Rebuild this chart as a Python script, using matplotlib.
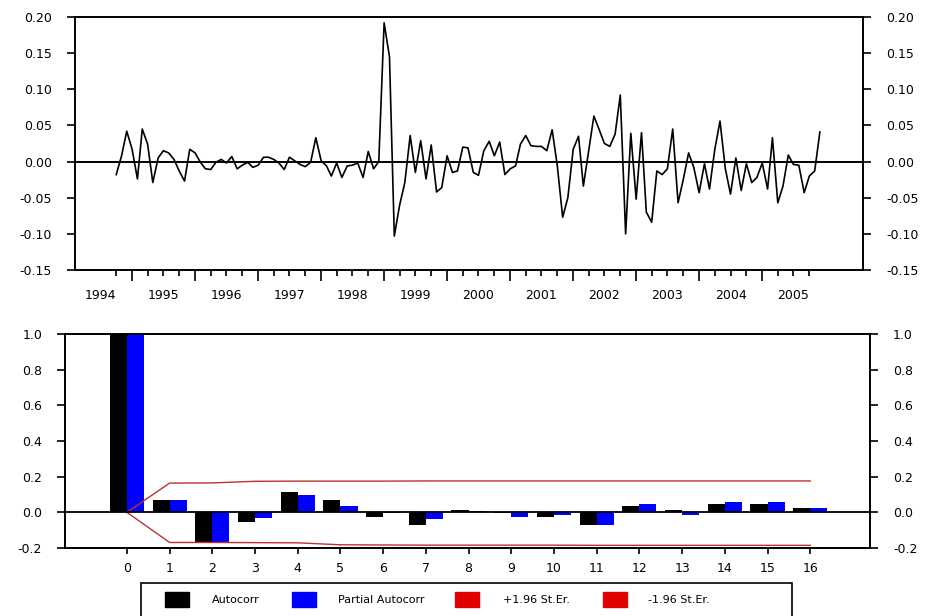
import numpy as np
import pandas as pd
import matplotlib
matplotlib.use("Agg")
import matplotlib.pyplot as plt
import matplotlib.dates as mdates
from matplotlib.patches import Rectangle

# monthly series, Oct 1994 - Dec 2005
series = [-0.018, 0.008, 0.042, 0.017, -0.024, 0.045, 0.024, -0.029, 0.005, 0.015,
          0.012, 0.003, -0.013, -0.027, 0.017, 0.012, -0.001, -0.010, -0.011, -0.001,
          0.003, -0.002, 0.007, -0.010, -0.005, -0.001, -0.008, -0.005, 0.006, 0.006,
          0.003, -0.002, -0.011, 0.006, 0.001, -0.004, -0.007, -0.001, 0.033, 0.001,
          -0.006, -0.020, -0.002, -0.022, -0.006, -0.005, -0.002, -0.022, 0.014, -0.010,
          0.000, 0.192, 0.145, -0.103, -0.060, -0.029, 0.036, -0.015, 0.029, -0.024,
          0.023, -0.042, -0.036, 0.008, -0.015, -0.013, 0.020, 0.019, -0.015, -0.019,
          0.015, 0.028, 0.008, 0.027, -0.018, -0.010, -0.006, 0.024, 0.036, 0.022,
          0.021, 0.021, 0.015, 0.044, -0.006, -0.077, -0.050, 0.017, 0.035, -0.034,
          0.015, 0.063, 0.044, 0.025, 0.021, 0.038, 0.092, -0.100, 0.039, -0.052,
          0.040, -0.070, -0.084, -0.013, -0.018, -0.010, 0.045, -0.057, -0.025, 0.012,
          -0.008, -0.043, -0.003, -0.038, 0.017, 0.056, -0.010, -0.045, 0.005, -0.040,
          -0.003, -0.029, -0.022, -0.002, -0.038, 0.033, -0.057, -0.034, 0.009, -0.004,
          -0.005, -0.043, -0.020, -0.013, 0.041]
dates = pd.date_range("1994-10-01", periods=len(series), freq="MS")
years = list(range(1994, 2006))

lags = np.arange(17)
acf = [1.0, 0.067, -0.170, -0.054, 0.114, 0.067, -0.028, -0.073, 0.015, -0.003,
       -0.026, -0.073, 0.034, 0.012, 0.045, 0.047, 0.025]
pacf = [1.0, 0.067, -0.170, -0.030, 0.100, 0.035, -0.003, -0.040, 0.006, -0.028,
        -0.015, -0.073, 0.047, -0.015, 0.057, 0.057, 0.025]
upper = [0.0, 0.164, 0.165, 0.174, 0.175, 0.175, 0.175, 0.176, 0.176, 0.176,
         0.176, 0.176, 0.176, 0.176, 0.176, 0.176, 0.176]
lower = [0.0, -0.169, -0.169, -0.170, -0.171, -0.182, -0.183, -0.184, -0.184, -0.184,
         -0.184, -0.185, -0.185, -0.185, -0.185, -0.185, -0.185]

W, H = 928, 616
fig = plt.figure(figsize=(W / 100, H / 100), dpi=100)
fs = 9

def frame(ax):
    for s in ax.spines.values():
        s.set_linewidth(1.4)
    ax.tick_params(axis='y', which='both', left=True, right=True, labelleft=True,
                   labelright=True, direction='out', length=6, width=1.2, pad=10.5,
                   labelsize=fs)

# ---- top panel: the series
ax1 = fig.add_axes([75 / W, 1 - 270 / H, 788 / W, 253 / H])
ax1.plot(dates, series, color='black', lw=1.2)
ax1.axhline(0, color='black', lw=1.4)
ax1.set_ylim(-0.15, 0.20)
ax1.set_yticks(np.arange(-0.15, 0.201, 0.05))
ax1.yaxis.set_major_formatter(plt.FormatStrFormatter('%.2f'))
ax1.set_xlim(pd.Timestamp("1994-02-04"), pd.Timestamp("2006-08-08"))
frame(ax1)
ax1.set_xticks([pd.Timestamp(f"{y}-01-01") for y in range(1995, 2006)])
ax1.set_xticks([d for d in pd.date_range("1994-10-01", "2005-10-01", freq="QS-JAN")
                if d.month != 1], minor=True)
ax1.tick_params(axis='x', which='major', length=8, width=1.2, labelbottom=False)
ax1.tick_params(axis='x', which='minor', length=4.5, width=1.2)
for y in years:
    ax1.text(pd.Timestamp(f"{y}-07-01"), -0.15 - 0.035, str(y), ha='center', va='center',
             fontsize=fs)

# ---- bottom panel: ACF / PACF
ax2 = fig.add_axes([65 / W, 1 - 548 / H, 805 / W, 214 / H])
ax2.bar(lags - 0.2, acf, width=0.4, color='black', zorder=2)
ax2.bar(lags + 0.2, pacf, width=0.4, color='#0000ff', zorder=2)
ax2.plot(lags, upper, color='#c03030', lw=1.0, zorder=3)
ax2.plot(lags, lower, color='#c03030', lw=1.0, zorder=3)
ax2.axhline(0, color='black', lw=1.3, zorder=4)
ax2.set_ylim(-0.2, 1.0)
ax2.set_yticks(np.arange(-0.2, 1.01, 0.2))
ax2.yaxis.set_major_formatter(plt.FormatStrFormatter('%.1f'))
ax2.set_xlim(-1.45, 17.4)
ax2.set_xticks(lags)
frame(ax2)
ax2.tick_params(axis='x', length=4, width=1.2, pad=6, labelsize=fs)

# ---- legend box at the bottom
fig.patches.append(Rectangle((141 / W, -0.02), (792 - 141) / W, 0.02 + (616 - 583) / H,
                             transform=fig.transFigure, fill=False, ec='black', lw=1.2))
entries = [('black', 165, 212, 'Autocorr'), ('#0000ff', 292, 338, 'Partial Autocorr'),
           ('#e00000', 455, 503, '+1.96 St.Er.'), ('#e00000', 603, 648, '-1.96 St.Er.')]
for col, px, tx, lab in entries:
    fig.patches.append(Rectangle((px / W, 1 - 607 / H), 24 / W, 15 / H,
                                 transform=fig.transFigure, color=col))
    fig.text(tx / W, 1 - 600 / H, lab, fontsize=8, va='center', ha='left')

plt.savefig('out.png', dpi=100)
